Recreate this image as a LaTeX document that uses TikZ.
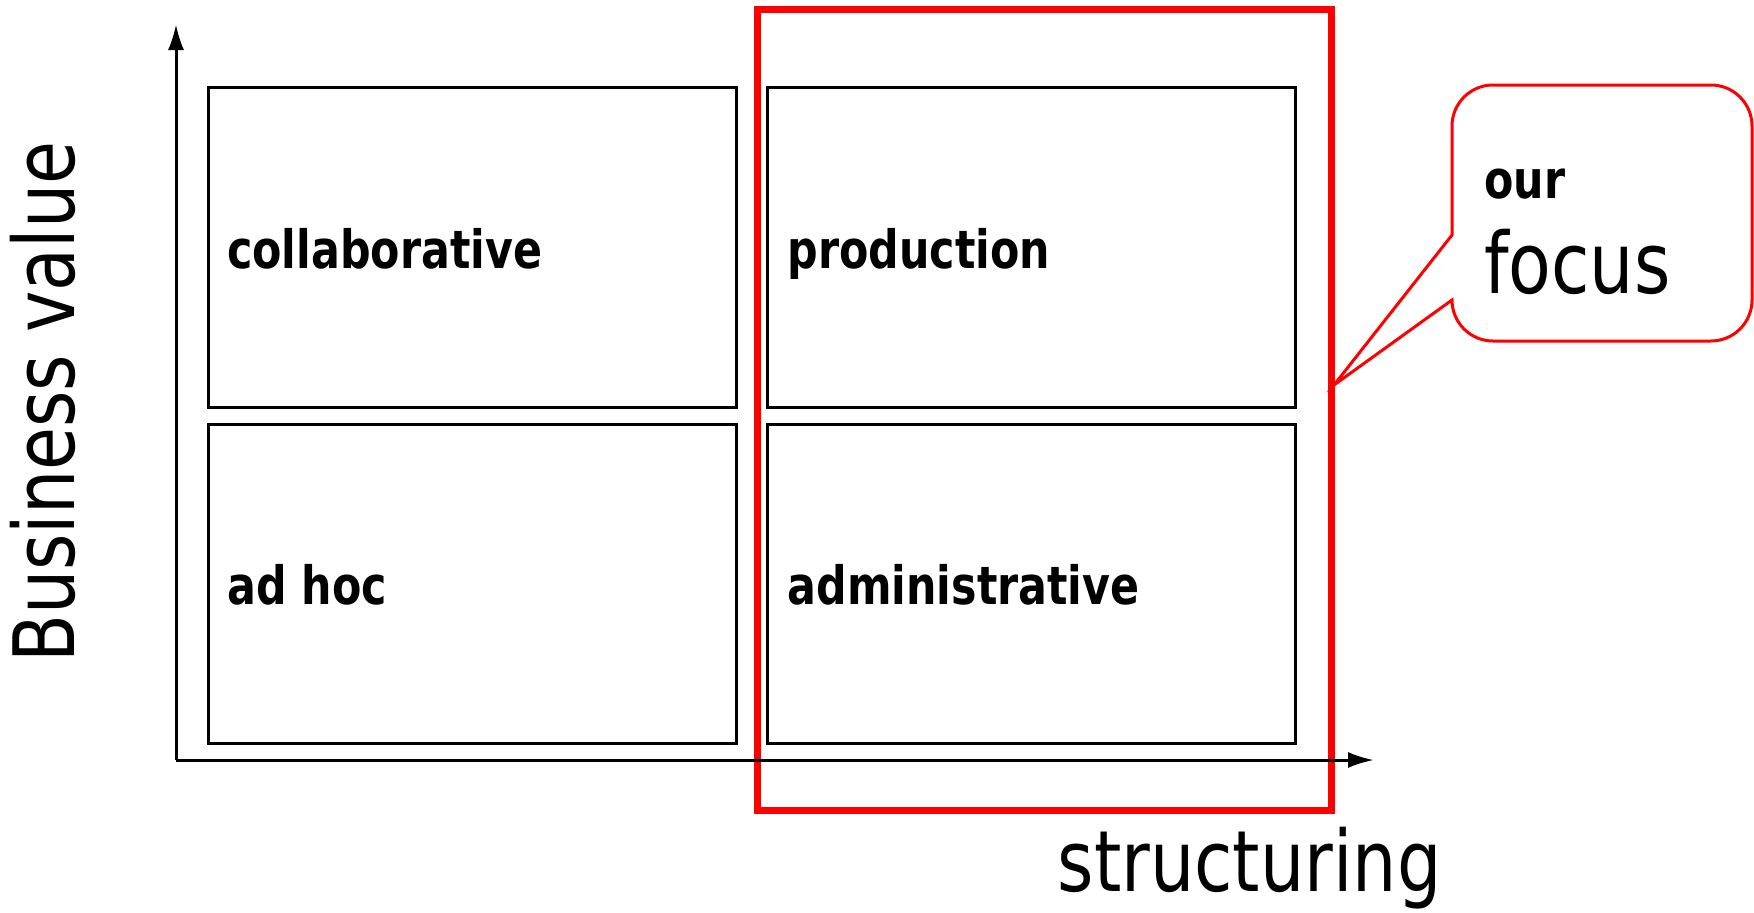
\documentclass[tikz,border=0pt]{standalone}
\usepackage{fontspec}
\setmainfont{DejaVu Sans}[FakeStretch=0.825]
\newfontfamily\lblfont{DejaVu Sans}[FakeStretch=0.81]
\usetikzlibrary{arrows.meta}
\begin{document}
\begin{tikzpicture}[x=1bp,y=-1bp,
  cell/.style={draw=black, line width=3bp, anchor=north west, outer sep=0pt, minimum width=528bp, minimum height=320bp, inner sep=0pt},
  lbl/.style={anchor=base west, inner sep=0pt, font=\fontsize{53}{56}\selectfont\lblfont\bfseries},
  big/.style={anchor=base west, inner sep=0pt, font=\fontsize{85}{90}\selectfont},
  axisline/.style={line width=3bp, -{Latex[length=26bp,width=16bp]}},
  focusframe/.style={draw=red, line width=7bp, anchor=north west, outer sep=0pt, minimum width=574bp, minimum height=800.5bp, inner sep=0pt},
  callout/.style={draw=red, line width=3bp, fill=white, line join=miter}]
\useasboundingbox (0,0) rectangle (1754,912);
% quadrant boxes
\node[cell] (collab) at (208,87) {};
\node[cell] (prod) at (767,87) {};
\node[cell, minimum height=319bp] (adhoc) at (208,424) {};
\node[cell, minimum height=319bp] (admin) at (767,424) {};
% labels
\node[lbl] (tcollab) at (227,268.5) {collaborative};
\node[lbl] (tprod) at (787.5,268.5) {production};
\node[lbl] (tadhoc) at (227,604) {ad hoc};
\node[lbl] (tadmin) at (787.5,604) {administrative};
% red focus frame
\node[focusframe] (frame) at (757,9.5) {};
% axes
\coordinate (o) at (176,760);
\coordinate (ytip) at (176,24);
\coordinate (xtip) at (1374,760);
\draw[axisline] (o) -- (ytip);
\draw[axisline] (o) -- (xtip);
% axis titles
\node[big, rotate=90] (bv) at (74.5,663) {Business value};
\node[big] (struct) at (1057.5,891) {structuring};
% callout
\coordinate (tip) at (1334,385);
\draw[callout] (1452,235) -- (1452,126) arc (180:270:41) -- (1711,85) arc (270:360:41)
  -- (1752,300) arc (0:90:41) -- (1493,341) arc (90:180:41) -- (tip) -- cycle;
\node[lbl] (our) at (1484,198) {our};
\node[big] (focus) at (1484,293) {focus};
\end{tikzpicture}
\end{document}
